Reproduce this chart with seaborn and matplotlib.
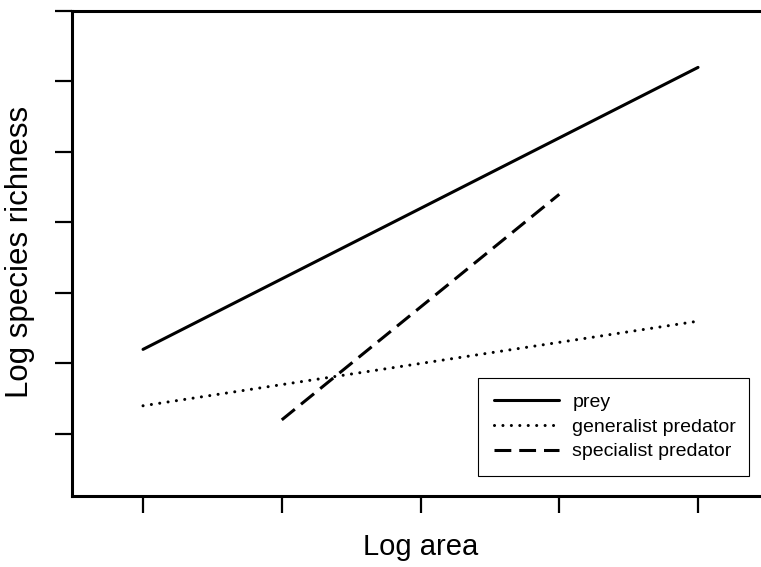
import matplotlib
matplotlib.use("Agg")
import matplotlib.pyplot as plt
from matplotlib.lines import Line2D
import seaborn as sns
import pandas as pd

# Fitted species-area relationships (log scale)
prey_x = [1, 5]
prey_y = [2.2, 6.2]
generalist_x = [1, 5]
generalist_y = [1.4, 2.6]
specialist_x = [2, 4]
specialist_y = [1.2, 4.4]

series_names = ["prey", "generalist predator", "specialist predator"]
x_ticks = [1, 2, 3, 4, 5]
y_ticks = [1, 2, 3, 4, 5, 6, 7]

sns.set_theme(style="ticks")
plt.rcParams["font.family"] = ["Liberation Sans", "DejaVu Sans"]
plt.rcParams["text.color"] = "black"
plt.rcParams["axes.labelcolor"] = "black"

fig = plt.figure(figsize=(7.61, 5.67), dpi=100)
ax = fig.add_axes([72 / 761, 1 - 496 / 567, (767.4 - 72) / 761, (496 - 11) / 567])

lw = 2.2
line_dashes = {
    "prey": None,
    "generalist predator": (0.01, 2.75),
    "specialist predator": (5.5, 2.6),
}
cap_styles = {
    "prey": "butt",
    "generalist predator": "round",
    "specialist predator": "butt",
}
data = {
    "prey": (prey_x, prey_y),
    "generalist predator": (generalist_x, generalist_y),
    "specialist predator": (specialist_x, specialist_y),
}

handles = []
for name in series_names:
    xs, ys = data[name]
    df = pd.DataFrame({"x": xs, "y": ys})
    sns.lineplot(data=df, x="x", y="y", ax=ax, color="black", lw=lw, legend=False)
    line = ax.lines[-1]
    handle = Line2D([0], [0], color="black", lw=lw)
    if line_dashes[name] is not None:
        for artist in (line, handle):
            artist.set_dashes(line_dashes[name])
            artist.set_dash_capstyle(cap_styles[name])
    handles.append(handle)

ax.set_xlim(0.488, 5.5)
ax.set_ylim(0.12, 7.0)
ax.set_xticks(x_ticks)
ax.set_yticks(y_ticks)
ax.set_xticklabels([])
ax.set_yticklabels([])
ax.tick_params(axis="both", direction="out", length=12, width=1.6, color="black")

for side in ["left", "bottom", "top", "right"]:
    ax.spines[side].set_linewidth(2.2)
    ax.spines[side].set_color("black")

ax.set_xlabel("Log area", fontsize=21)
ax.set_ylabel("Log species richness", fontsize=22.5)
ax.xaxis.set_label_coords((421 - 72) / 695.4, -(533 - 496) / 485)
ax.yaxis.set_label_coords((35 - 72) / 695.4, (496 - 252) / 485)

leg_x0, leg_y0, leg_x1 = 478, 378, 749
leg = ax.legend(handles, series_names, loc="upper left",
                bbox_to_anchor=(leg_x0 / 761, 1 - leg_y0 / 567,
                                (leg_x1 - leg_x0) / 761, 0.0),
                bbox_transform=fig.transFigure, mode="expand", borderaxespad=0,
                fontsize=14, handlelength=3.34, handletextpad=0.72,
                labelspacing=0.36, borderpad=0.8, fancybox=False,
                frameon=True, framealpha=1)
leg.get_frame().set_edgecolor("black")
leg.get_frame().set_linewidth(0.8)

fig.savefig("out.png", dpi=100)
